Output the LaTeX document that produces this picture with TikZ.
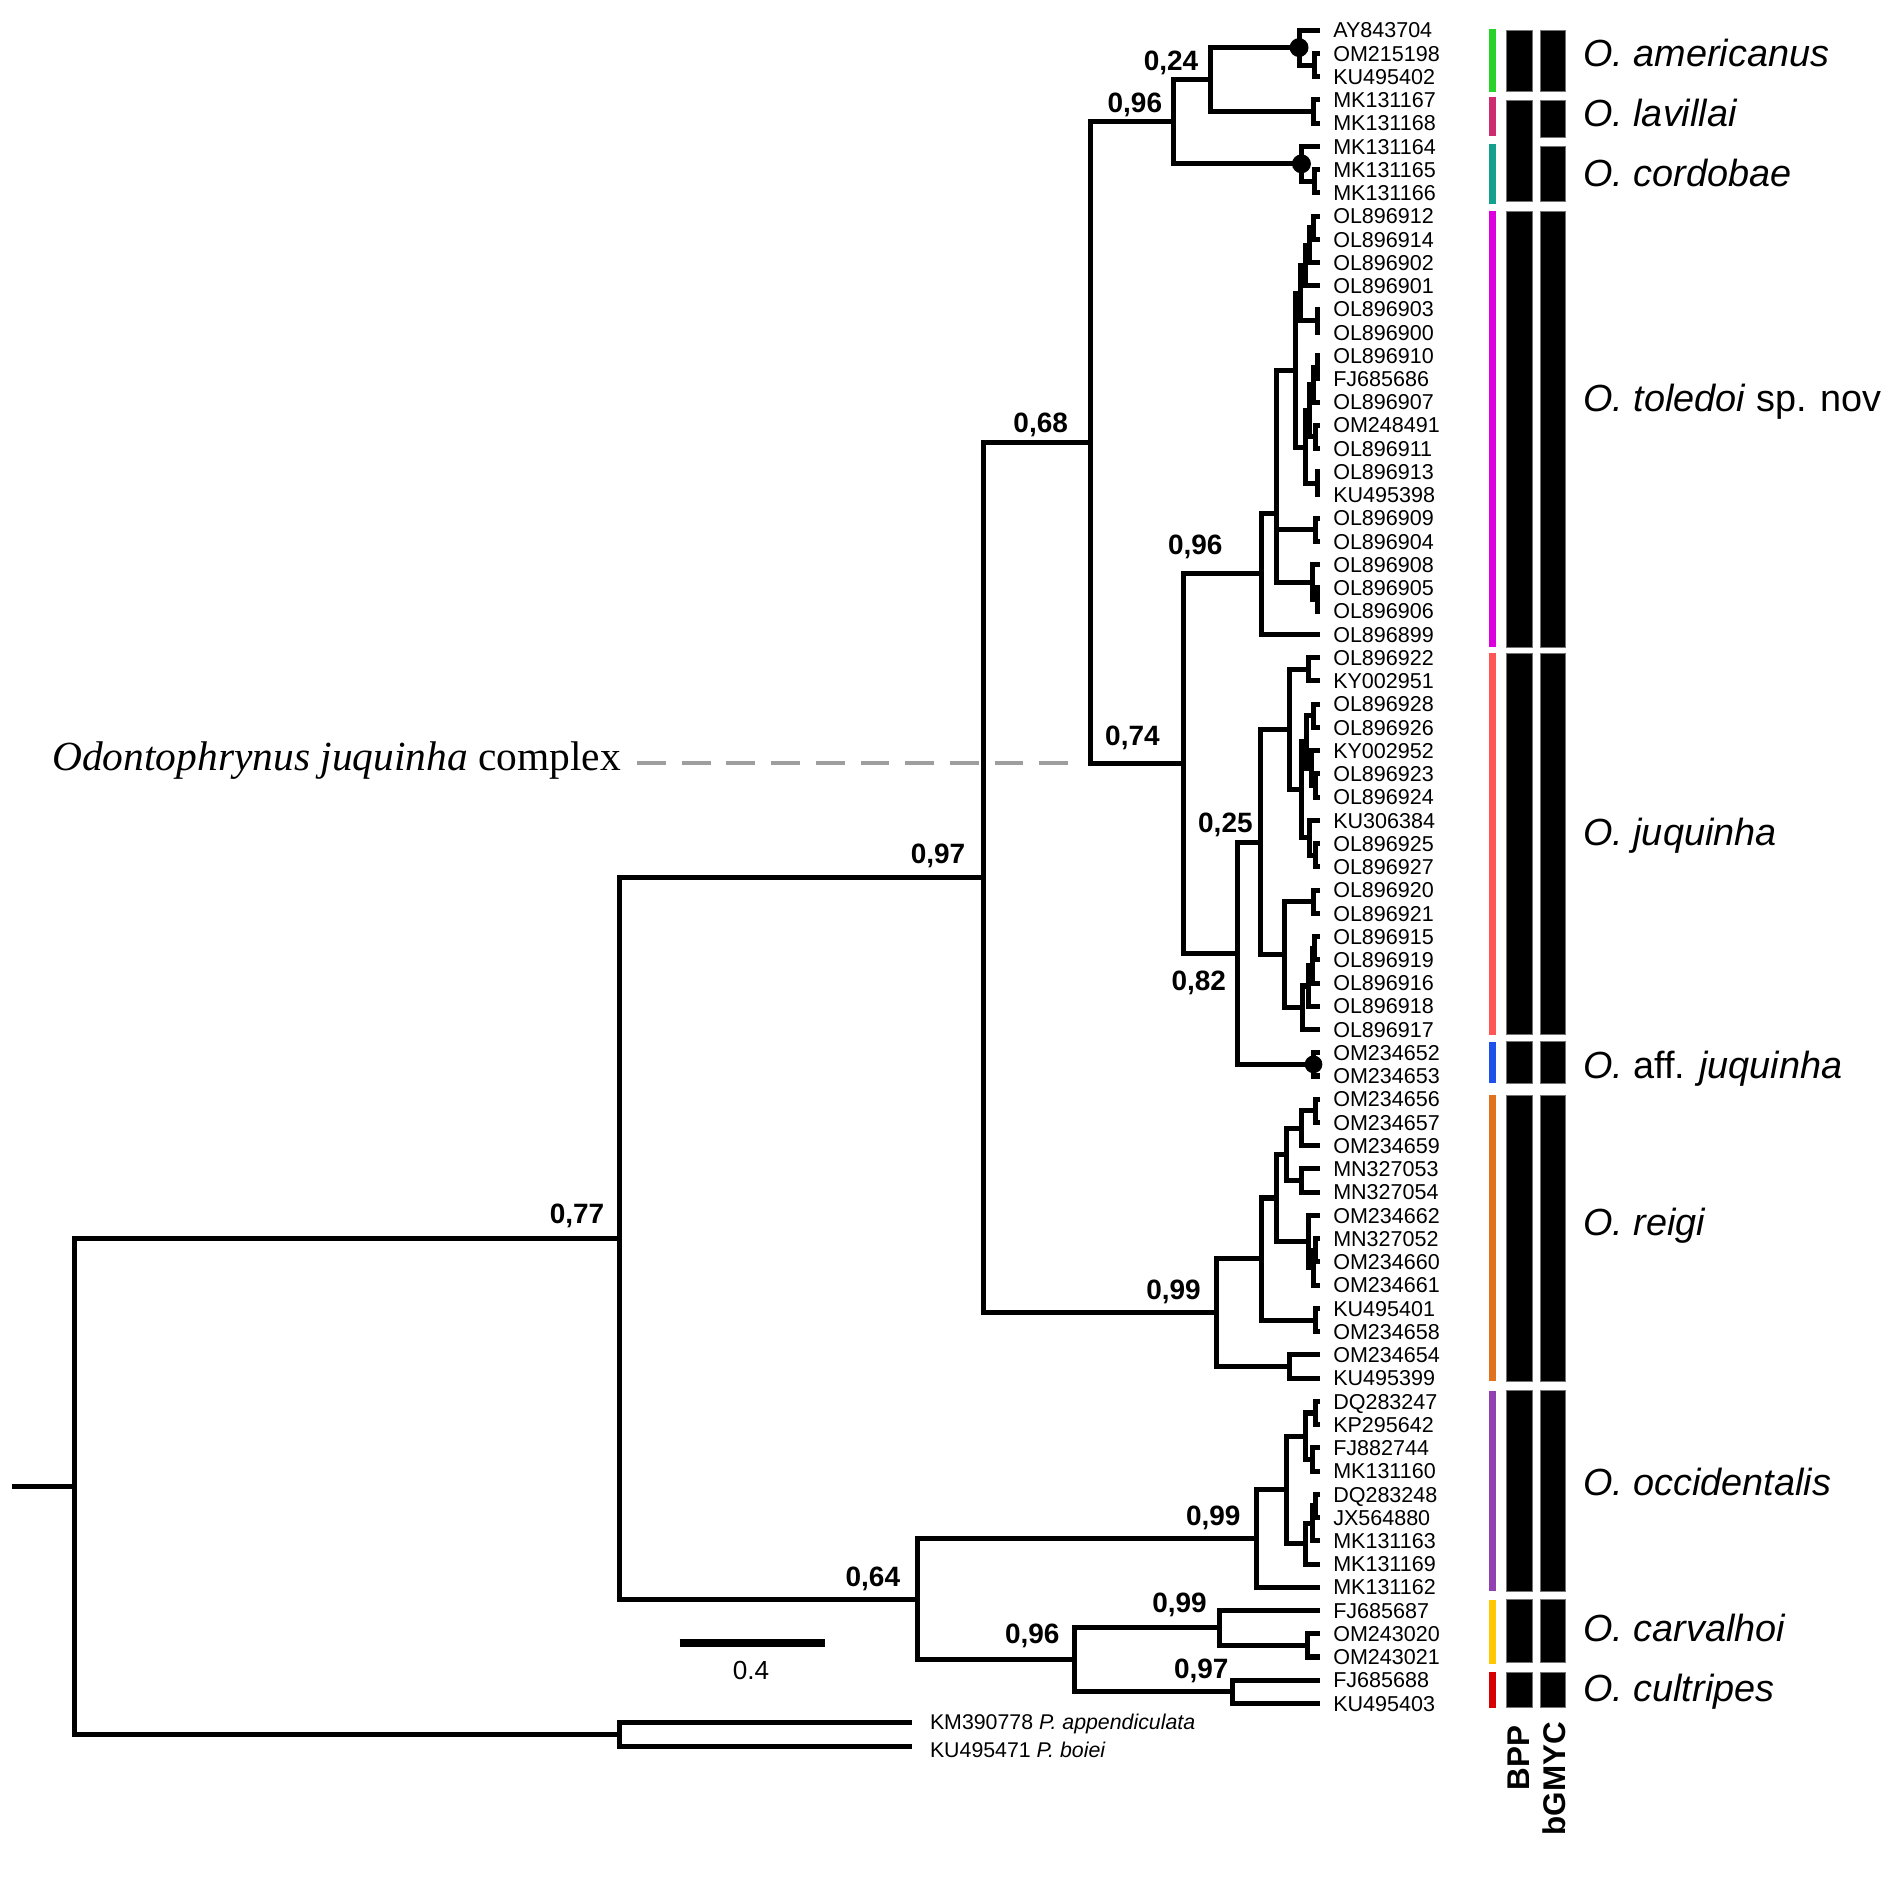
\documentclass[tikz,border=0pt]{standalone}
\usepackage{fontspec}
\setmainfont{Liberation Sans}
\newfontfamily\timesfont{Liberation Serif}
\definecolor{cAm}{RGB}{40,210,40}
\definecolor{cLa}{RGB}{205,45,110}
\definecolor{cCo}{RGB}{20,160,140}
\definecolor{cTo}{RGB}{220,0,220}
\definecolor{cJu}{RGB}{255,85,85}
\definecolor{cAf}{RGB}{30,80,235}
\definecolor{cRe}{RGB}{225,115,30}
\definecolor{cOc}{RGB}{145,65,175}
\definecolor{cCa}{RGB}{255,200,0}
\definecolor{cCu}{RGB}{215,0,0}
\begin{document}
\begin{tikzpicture}[x=0.6pt, y=-0.6pt,
  br/.style={line width=2.5pt, line join=miter},
  tip/.style={anchor=west, inner sep=0pt, font=\fontsize{10.7}{12}\selectfont, text height=7.66pt, text depth=0pt},
  ogtip/.style={anchor=west, inner sep=0pt, font=\fontsize{10.6}{12}\selectfont, text height=7.6pt, text depth=0pt},
  sup/.style={inner sep=0pt, font=\fontsize{13.9}{15}\selectfont\bfseries, text height=9.95pt, text depth=0pt},
  spname/.style={anchor=base west, inner sep=0pt, font=\fontsize{18.8}{20}\selectfont},
  blkbar/.style={fill=black, draw=black!55, line width=0.4pt},
  method/.style={rotate=90, anchor=east, inner sep=0pt, font=\fontsize{15.6}{17}\selectfont\bfseries},
  dashline/.style={draw=black!38, line width=1.8pt, dash pattern=on 14.4pt off 7.8pt}
]
\useasboundingbox (0,0) rectangle (1568,1568);

% ---------- tips ----------
\foreach \i/\lab in {0/AY843704,1/OM215198,2/KU495402,3/MK131167,4/MK131168,5/MK131164,6/MK131165,7/MK131166,8/OL896912,9/OL896914,10/OL896902,11/OL896901,12/OL896903,13/OL896900,14/OL896910,15/FJ685686,16/OL896907,17/OM248491,18/OL896911,19/OL896913,20/KU495398,21/OL896909,22/OL896904,23/OL896908,24/OL896905,25/OL896906,26/OL896899,27/OL896922,28/KY002951,29/OL896928,30/OL896926,31/KY002952,32/OL896923,33/OL896924,34/KU306384,35/OL896925,36/OL896927,37/OL896920,38/OL896921,39/OL896915,40/OL896919,41/OL896916,42/OL896918,43/OL896917,44/OM234652,45/OM234653,46/OM234656,47/OM234657,48/OM234659,49/MN327053,50/MN327054,51/OM234662,52/MN327052,53/OM234660,54/OM234661,55/KU495401,56/OM234658,57/OM234654,58/KU495399,59/DQ283247,60/KP295642,61/FJ882744,62/MK131160,63/DQ283248,64/JX564880,65/MK131163,66/MK131169,67/MK131162,68/FJ685687,69/OM243020,70/OM243021,71/FJ685688,72/KU495403}{
  \pgfmathsetmacro\yy{25+19.25*\i}
  \coordinate (e\i) at (1093,\yy);
  \node[tip] (t\i) at (1104,\yy) {\lab};
}

% ---------- internal nodes ----------
\foreach \n/\x/\y in {
  am2/1089/53.9, am/1076/39.4, lav/1088/92.4, n1003/1003/65.9,
  cor2/1089/150.1, cor/1078/135.7, n972/972/100.8,
  tc/1088/188.6, tb/1085/203.1, ta/1081/219.9, tp1/1091/265.6, tA/1077/242.8,
  tp2/1091/304.1, tD/1088/318.6, tE/1090/361.9, tC/1085/340.2, tp3/1091/400.4,
  tB/1081/370.3, T2/1073/306.5, tp4/1090/438.9, tp5/1091/496.6, tq/1087/482.2,
  T1/1057/425, T0/1045/475.3,
  j1/1084/554.4, k1/1088/592.9, k2/1090/650.6, k3/1086/636.2, k4/1082/614.5,
  m1/1090/708.4, m2/1085/693.9, J1b/1078/654.2, J1/1068/604.3,
  r1/1088/746.9, s1/1089/785.4, s2/1087/799.8, s3/1084/816.7, s4/1079/834.7,
  J2/1064/790.8, J0/1044/697.6, aff/1088/881.6, n1026/1025/789.6,
  n980/980/632.4, n903/903/366.6,
  rp1/1090/920.1, R3/1078/934.6, rp2/1078/977.9, R2/1066/956.2,
  rq1/1090/1035.6, rq2/1088/1050.1, rq3/1084/1028.4, R1/1057/992.3,
  rp3/1090/1093.4, R0/1045/1042.8, rp4/1068/1131.9, n1008/1008/1087.4,
  n815/815/727,
  o1/1090/1170.4, o2/1087/1208.9, o3/1081/1189.6, o4/1090/1247.4,
  o5/1087/1261.8, o6/1081/1278.7, o7/1066/1234.1, occ/1041/1274.5,
  cv1/1083/1362.9, carv/1010/1348.4, cult/1021/1401.4, n890/890/1374.9,
  n760/760/1324.7, n513/513/1025.8,
  og/513/1437, root/62/1231.4, stem/10/1231.4}{
  \coordinate (\n) at (\x,\y);
}
\coordinate (og1) at (755,1427);
\coordinate (og2) at (755,1447);

% ---------- branches ----------
\foreach \p/\c in {
  am2/e1, am2/e2, am/e0, am/am2, lav/e3, lav/e4, n1003/am, n1003/lav,
  cor2/e6, cor2/e7, cor/e5, cor/cor2, n972/n1003, n972/cor,
  tc/e8, tc/e9, tb/tc, tb/e10, ta/tb, ta/e11, tp1/e12, tp1/e13, tA/ta, tA/tp1,
  tp2/e14, tp2/e15, tD/tp2, tD/e16, tE/e17, tE/e18, tC/tD, tC/tE,
  tp3/e19, tp3/e20, tB/tC, tB/tp3, T2/tA, T2/tB, tp4/e21, tp4/e22,
  tp5/e24, tp5/e25, tq/e23, tq/tp5, T1/T2, T1/tp4, T1/tq, T0/T1, T0/e26,
  j1/e27, j1/e28, k1/e29, k1/e30, k2/e32, k2/e33, k3/e31, k3/k2, k4/k1, k4/k3,
  m1/e35, m1/e36, m2/e34, m2/m1, J1b/k4, J1b/m2, J1/j1, J1/J1b,
  r1/e37, r1/e38, s1/e39, s1/e40, s2/s1, s2/e41, s3/s2, s3/e42, s4/s3, s4/e43,
  J2/r1, J2/s4, J0/J1, J0/J2, aff/e44, aff/e45, n1026/J0, n1026/aff,
  n980/T0, n980/n1026, n903/n972, n903/n980,
  rp1/e46, rp1/e47, R3/rp1, R3/e48, rp2/e49, rp2/e50, R2/R3, R2/rp2,
  rq1/e52, rq1/e53, rq2/rq1, rq2/e54, rq3/e51, rq3/rq2, R1/R2, R1/rq3,
  rp3/e55, rp3/e56, R0/R1, R0/rp3, rp4/e57, rp4/e58, n1008/R0, n1008/rp4,
  n815/n903, n815/n1008,
  o1/e59, o1/e60, o2/e61, o2/e62, o3/o1, o3/o2, o4/e63, o4/e64, o5/o4, o5/e65,
  o6/o5, o6/e66, o7/o3, o7/o6, occ/o7, occ/e67,
  cv1/e69, cv1/e70, carv/e68, carv/cv1, cult/e71, cult/e72, n890/carv, n890/cult,
  n760/occ, n760/n890, n513/n815, n513/n760,
  og/og1, og/og2, root/n513, root/og}{
  \draw[br] (\p) |- (\c);
}
\draw[br] (stem) -- (root);

% node dots
\fill (am) circle[radius=4.7pt];
\fill (cor) circle[radius=4.7pt];
\fill (aff) circle[radius=4.4pt];

% outgroup labels
\node[ogtip] (ogl1) at (770,1426) {KM390778 \textit{P. appendiculata}};
\node[ogtip] (ogl2) at (770,1449) {KU495471 \textit{P. boiei}};

% ---------- support values ----------
\foreach \k/\x/\y/\v in {1/970/50/{0,24}, 2/940/85/{0,96}, 3/862/350/{0,68}, 4/990/451/{0,96},
  5/938/609/{0,74}, 6/1015/681/{0,25}, 7/993/812/{0,82}, 8/777/707/{0,97}, 9/478/1005/{0,77},
  10/972/1068/{0,99}, 11/1005/1255/{0,99}, 12/723/1306/{0,64}, 13/855/1353/{0,96},
  14/977/1327/{0,99}, 15/995/1382/{0,97}}{
  \node[sup] (lb\k) at (\x,\y) {\v};
}

% ---------- scale bar ----------
\coordinate (sb1) at (563,1361);
\coordinate (sb2) at (683,1361);
\draw[line width=4.2pt] (sb1) -- (sb2);
\node[inner sep=0pt, font=\fontsize{13}{15}\selectfont] (sbl) at (622,1384) {0.4};

% ---------- complex label ----------
\node[anchor=base west, inner sep=0pt, font=\timesfont\fontsize{20.6}{22}\selectfont] (cx) at (43,638) {\textit{Odontophrynus juquinha} complex};
\coordinate (dashend) at (890,632);
\draw[dashline, shorten <=7.8pt] (cx.east |- dashend) -- (dashend);

% ---------- colour bars ----------
\fill[cAm] (1233,24) rectangle (1239,76);
\fill[cLa] (1233,80) rectangle (1239,113);
\fill[cCo] (1233,119) rectangle (1239,169);
\fill[cTo] (1233,175) rectangle (1239,536);
\fill[cJu] (1233,541) rectangle (1239,857);
\fill[cAf] (1233,863) rectangle (1239,897);
\fill[cRe] (1233,907) rectangle (1239,1144);
\fill[cOc] (1233,1152) rectangle (1239,1318);
\fill[cCa] (1233,1325) rectangle (1239,1378);
\fill[cCu] (1233,1385) rectangle (1239,1415);

% BPP column
\foreach \a/\b in {25/76, 83/167, 175/536, 541/857, 863/897, 907/1144, 1152/1318, 1325/1377, 1385/1414}{
  \path[blkbar] (1248,\a) rectangle (1269,\b);
}
% bGMYC column
\foreach \a/\b in {25/76, 83/114, 121/167, 175/536, 541/857, 863/897, 907/1144, 1152/1318, 1325/1377, 1385/1414}{
  \path[blkbar] (1276,\a) rectangle (1297,\b);
}
\node[method] (mBPP) at (1258,1429) {BPP};
\node[method] (mGM) at (1287,1426) {bGMYC};

% ---------- species names ----------
\node[spname] (n1) at (1311,55.5) {\textit{O. americanus}};
\node[spname] (n2) at (1311,105) {\textit{O. lavillai}};
\node[spname] (n3) at (1311,154.6) {\textit{O. cordobae}};
\node[spname] (n4) at (1311,341) {\textit{O. toledoi} sp. nov};
\node[spname] (n5) at (1311,700) {\textit{O. juquinha}};
\node[spname] (n6) at (1311,893) {\textit{O.} aff. \textit{juquinha}};
\node[spname] (n7) at (1311,1023) {\textit{O. reigi}};
\node[spname] (n8) at (1311,1239) {\textit{O. occidentalis}};
\node[spname] (n9) at (1311,1360) {\textit{O. carvalhoi}};
\node[spname] (n10) at (1311,1409.5) {\textit{O. cultripes}};
\end{tikzpicture}
\end{document}
